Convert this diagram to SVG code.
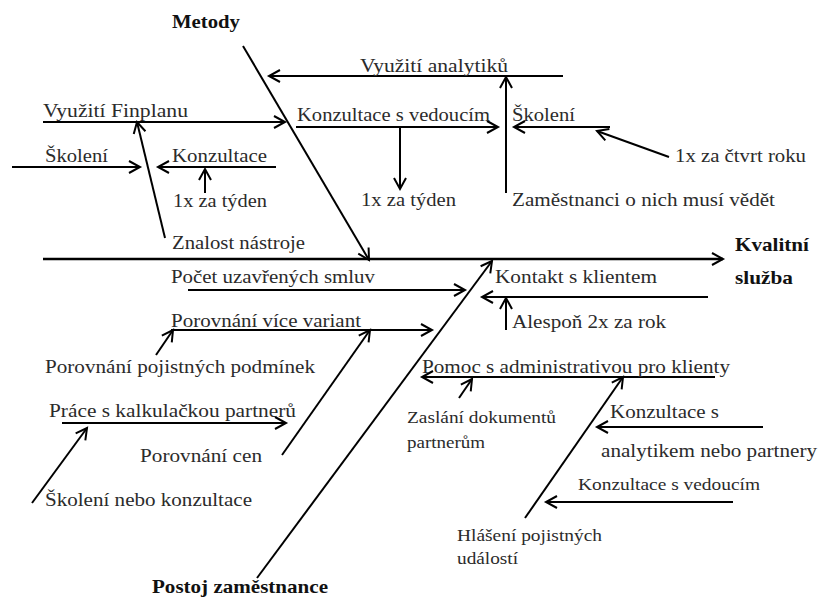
<svg xmlns="http://www.w3.org/2000/svg" width="819" height="599" viewBox="0 0 819 599">
<defs>
<style>
.t{font-size:19px;fill:#2b2b2b}
.b{font-weight:bold;fill:#111}
.s{font-size:17.5px}
.c{stroke:#000;stroke-width:2;fill:none}
.m{marker-end:url(#a)}
</style>
<marker id="a" markerUnits="userSpaceOnUse" markerWidth="14" markerHeight="14" refX="12" refY="7" orient="auto" style="overflow:visible">
<path d="M1,1 L12,7 L1,13" fill="none" stroke="#000" stroke-width="2"/>
</marker>
</defs>
<rect width="819" height="599" fill="#fff"/>
<g id="connectors">
<line class="c m" x1="243" y1="46" x2="369" y2="260"/>
<line class="c m" x1="43" y1="259" x2="723" y2="259" style="stroke-width:2.4"/>
<line class="c m" x1="563" y1="76" x2="269" y2="76"/>
<line class="c m" x1="506" y1="193" x2="506" y2="77"/>
<line class="c m" x1="43" y1="122" x2="285" y2="122"/>
<line class="c m" x1="296" y1="127" x2="498" y2="127"/>
<line class="c m" x1="610" y1="127" x2="514" y2="127"/>
<line class="c m" x1="669" y1="157" x2="597" y2="131"/>
<line class="c m" x1="400" y1="127" x2="400" y2="189"/>
<line class="c m" x1="12" y1="167" x2="140" y2="167"/>
<line class="c m" x1="276" y1="167" x2="158" y2="167"/>
<line class="c m" x1="205" y1="193" x2="205" y2="169"/>
<line class="c m" x1="165" y1="238" x2="137" y2="122"/>
<line class="c m" x1="188" y1="290" x2="465" y2="290"/>
<line class="c m" x1="257" y1="578" x2="492" y2="261"/>
<line class="c m" x1="708" y1="297" x2="482" y2="297"/>
<line class="c m" x1="506" y1="330" x2="506" y2="298"/>
<line class="c m" x1="171" y1="330" x2="432" y2="330"/>
<line class="c m" x1="156" y1="355" x2="173" y2="330"/>
<line class="c m" x1="282" y1="455" x2="370" y2="330"/>
<line class="c m" x1="62" y1="423" x2="286" y2="423"/>
<line class="c m" x1="32" y1="503" x2="87" y2="428"/>
<line class="c m" x1="715" y1="377" x2="422" y2="377"/>
<line class="c m" x1="459" y1="398" x2="472" y2="379"/>
<line class="c m" x1="525" y1="518" x2="623" y2="377"/>
<line class="c m" x1="763" y1="427" x2="597" y2="427"/>
<line class="c m" x1="733" y1="502" x2="546" y2="502"/>
</g>
<g font-family="Liberation Serif, DejaVu Serif, Noto Serif, serif">
<g id="metody"><text class="t b" x="172" y="28" textLength="68" lengthAdjust="spacingAndGlyphs">Metody</text></g>
<g id="kvalitni-sluzba">
<text class="t b" x="735" y="251" textLength="74" lengthAdjust="spacingAndGlyphs">Kvalitní</text>
<text class="t b" x="735" y="284" textLength="58" lengthAdjust="spacingAndGlyphs">služba</text>
</g>
<g id="postoj"><text class="t b" x="152" y="593" textLength="176" lengthAdjust="spacingAndGlyphs">Postoj zaměstnance</text></g>
<g id="vyuziti-analytiku"><text class="t" x="360" y="72" textLength="148" lengthAdjust="spacingAndGlyphs">Využití analytiků</text></g>
<g id="vyuziti-finplanu"><text class="t" x="43" y="117" textLength="145" lengthAdjust="spacingAndGlyphs">Využití Finplanu</text></g>
<g id="konzultace-vedoucim"><text class="t" x="297" y="121" textLength="193" lengthAdjust="spacingAndGlyphs">Konzultace s vedoucím</text></g>
<g id="skoleni-r"><text class="t" x="512" y="121" textLength="63" lengthAdjust="spacingAndGlyphs">Školení</text></g>
<g id="ctvrt-roku"><text class="t" x="675" y="162" textLength="131" lengthAdjust="spacingAndGlyphs">1x za čtvrt roku</text></g>
<g id="tyden-m"><text class="t" x="361" y="206" textLength="95" lengthAdjust="spacingAndGlyphs">1x za týden</text></g>
<g id="zamestnanci"><text class="t" x="512" y="206" textLength="263" lengthAdjust="spacingAndGlyphs">Zaměstnanci o nich musí vědět</text></g>
<g id="skoleni-l"><text class="t" x="45" y="162" textLength="63" lengthAdjust="spacingAndGlyphs">Školení</text></g>
<g id="konzultace"><text class="t" x="172" y="162" textLength="95" lengthAdjust="spacingAndGlyphs">Konzultace</text></g>
<g id="tyden-l"><text class="t" x="173" y="207" textLength="94" lengthAdjust="spacingAndGlyphs">1x za týden</text></g>
<g id="znalost"><text class="t" x="172" y="249" textLength="133" lengthAdjust="spacingAndGlyphs">Znalost nástroje</text></g>
<g id="pocet"><text class="t" x="171" y="283" textLength="204" lengthAdjust="spacingAndGlyphs">Počet uzavřených smluv</text></g>
<g id="kontakt"><text class="t" x="495" y="283" textLength="162" lengthAdjust="spacingAndGlyphs">Kontakt s klientem</text></g>
<g id="alespon"><text class="t" x="512" y="328" textLength="154" lengthAdjust="spacingAndGlyphs">Alespoň 2x za rok</text></g>
<g id="porovnani-variant"><text class="t" x="171" y="327" textLength="190" lengthAdjust="spacingAndGlyphs">Porovnání více variant</text></g>
<g id="porovnani-podminek"><text class="t" x="45" y="373" textLength="270" lengthAdjust="spacingAndGlyphs">Porovnání pojistných podmínek</text></g>
<g id="prace-kalkulacka"><text class="t" x="49" y="417" textLength="247" lengthAdjust="spacingAndGlyphs">Práce s kalkulačkou partnerů</text></g>
<g id="porovnani-cen"><text class="t" x="140" y="462" textLength="122" lengthAdjust="spacingAndGlyphs">Porovnání cen</text></g>
<g id="skoleni-konzultace"><text class="t" x="45" y="506" textLength="207" lengthAdjust="spacingAndGlyphs">Školení nebo konzultace</text></g>
<g id="pomoc"><text class="t" x="422" y="373" textLength="308" lengthAdjust="spacingAndGlyphs">Pomoc s administrativou pro klienty</text></g>
<g id="zaslani">
<text class="t s" x="407" y="423" textLength="149" lengthAdjust="spacingAndGlyphs">Zaslání dokumentů</text>
<text class="t s" x="407" y="448" textLength="78" lengthAdjust="spacingAndGlyphs">partnerům</text>
</g>
<g id="konzultace-analytik">
<text class="t" x="610" y="418" textLength="109" lengthAdjust="spacingAndGlyphs">Konzultace s</text>
<text class="t" x="601" y="457" textLength="216" lengthAdjust="spacingAndGlyphs">analytikem nebo partnery</text>
</g>
<g id="konzultace-vedoucim-b"><text class="t s" x="578" y="490" textLength="182" lengthAdjust="spacingAndGlyphs">Konzultace s vedoucím</text></g>
<g id="hlaseni">
<text class="t s" x="457" y="541" textLength="145" lengthAdjust="spacingAndGlyphs">Hlášení pojistných</text>
<text class="t s" x="457" y="564" textLength="61" lengthAdjust="spacingAndGlyphs">událostí</text>
</g>
</g>
</svg>
